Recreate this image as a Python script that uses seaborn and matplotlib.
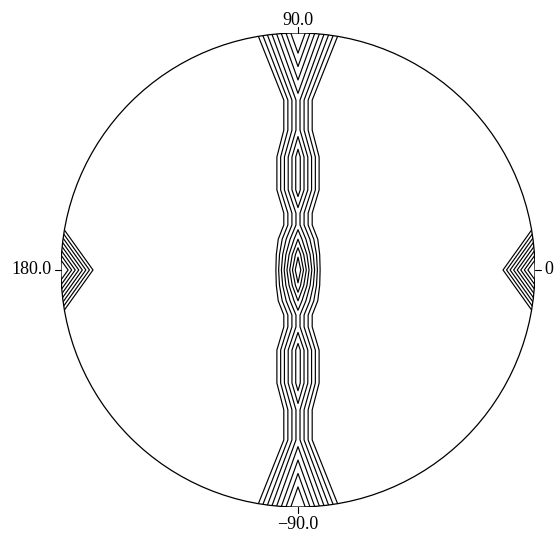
import numpy as np
import matplotlib
matplotlib.use('Agg')
import matplotlib.pyplot as plt
from matplotlib.patches import Circle
import seaborn as sns

# coarse grid (unit circle, y up)
row_y = [1.0, 0.717, 0.59, 0.477, 0.338, 0.24, 0.19, 0.13, 0.065, 0.0,
         -0.065, -0.13, -0.19, -0.24, -0.338, -0.477, -0.59, -0.717, -1.0]
band_peak = [9.5, 4.5, 4.5, 6.6, 6.6, 4.5, 4.5, 6.0, 7.8, 9.0,
             7.8, 6.0, 4.5, 4.5, 6.6, 6.6, 4.5, 4.5, 9.5]
band_halfwidth = [0.193, 0.077, 0.077, 0.105, 0.105, 0.077, 0.077, 0.1, 0.105, 0.105,
                  0.105, 0.1, 0.077, 0.077, 0.105, 0.105, 0.077, 0.077, 0.193]
rim_value = [0, 0, 0, 0, 0, 0, 0.95, 3.8, 6.9, 10.0,
             6.9, 3.8, 0.95, 0, 0, 0, 0, 0, 0]
rim_peak = 10.0
rim_depth = 0.15
levels = [1, 2, 3, 4, 5, 6, 7, 8]

dir_angles = [0, 90, 180, -90]
dir_labels = ['0', '90.0', '180.0', '\u221290.0']

sns.set_theme(style='white')
plt.rcParams['font.family'] = ['Liberation Serif', 'DejaVu Serif']

# curvilinear grid: rim, rim inner, band edge, centre line, band edge, rim inner, rim
X, Y, Z = [], [], []
for y, v, w, e in zip(row_y, band_peak, band_halfwidth, rim_value):
    X.append([-1.0, -1.0 + rim_depth, -w, 0.0, w, 1.0 - rim_depth, 1.0])
    Y.append([y] * 7)
    Z.append([e, e - rim_peak, 0.0, v, 0.0, e - rim_peak, e])
X, Y, Z = np.array(X), np.array(Y), np.array(Z)

fig = plt.figure(figsize=(5.54, 5.34), dpi=100)
ax = fig.add_axes([61 / 554, 27 / 534, 474 / 554, 474 / 534])
ax.set_xlim(-1, 1)
ax.set_ylim(-1, 1)
ax.set_aspect('equal')
ax.axis('off')

rim = Circle((0, 0), 1.0, fill=False, edgecolor='black', lw=0.9)
ax.add_patch(rim)

cs = ax.contour(X, Y, Z, levels=levels, colors='black', linewidths=0.85)
cs.set_clip_path(rim)

# direction ticks and labels
pos = {0: (1.04, 0.0, 'left', 'center'),
       90: (0.0, 1.034, 'center', 'baseline'),
       180: (-1.042, 0.0, 'right', 'center'),
       -90: (0.0, -1.04, 'center', 'top')}
for a, lab in zip(dir_angles, dir_labels):
    c, s = np.cos(np.radians(a)), np.sin(np.radians(a))
    ax.plot([c, c * 1.025], [s, s * 1.025], color='black', lw=0.8, clip_on=False)
    x, y, ha, va = pos[a]
    ax.text(x, y, lab, ha=ha, va=va, fontsize=13, color='black')

fig.savefig('out.png', dpi=100, facecolor='white')
